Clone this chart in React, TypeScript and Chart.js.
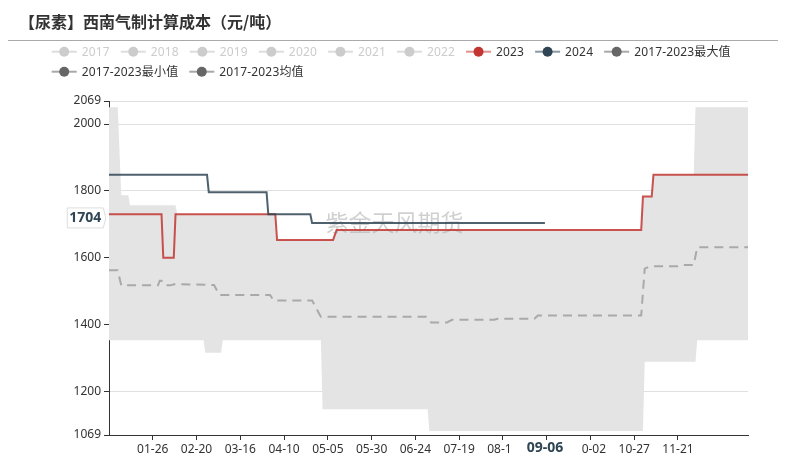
import React, { useEffect, useRef } from 'react';
import { Chart, registerables } from 'chart.js';

Chart.register(...registerables);

// ---------- data ----------
const TITLE = '【尿素】西南气制计算成本（元/吨）';
const WATERMARK = '紫金天风期货';

const legendNames = ['2017', '2018', '2019', '2020', '2021', '2022', '2023', '2024', '2017-2023最大值', '2017-2023最小值', '2017-2023均值'];

const xTickDates = ['01-26', '02-20', '03-16', '04-10', '05-05', '05-30', '06-24', '07-19', '08-13', '09-07', '10-02', '10-27', '11-21'];
const yTicks = [1069, 1200, 1400, 1600, 1800, 2000, 2069];

const pointerDate = '09-06';
const pointerValue = 1704;

const series2023: [string, number][] = [
  ['01-01', 1730], ['01-31', 1730], ['02-01', 1600], ['02-07', 1600], ['02-08', 1730],
  ['04-05', 1730], ['04-06', 1653], ['05-08', 1653], ['05-10', 1683],
  ['10-31', 1683], ['11-01', 1783], ['11-06', 1783], ['11-07', 1848], ['12-31', 1848],
];

const series2024: [string, number][] = [
  ['01-01', 1848], ['02-26', 1848], ['02-27', 1796], ['03-31', 1796], ['04-01', 1730],
  ['04-25', 1730], ['04-26', 1704], ['09-06', 1704],
];

const seriesMax: [string, number][] = [
  ['01-01', 2050], ['01-06', 2050], ['01-08', 1787], ['01-12', 1787], ['01-13', 1757],
  ['02-08', 1757], ['02-09', 1730], ['04-05', 1730], ['04-06', 1653], ['05-08', 1653],
  ['05-10', 1683], ['10-31', 1683], ['11-01', 1783], ['11-06', 1783], ['11-07', 1848],
  ['11-30', 1848], ['12-01', 2050], ['12-31', 2050],
];

const seriesMin: [string, number][] = [
  ['01-01', 1353], ['02-24', 1353], ['02-25', 1315], ['03-05', 1315], ['03-06', 1353],
  ['05-01', 1353], ['05-02', 1146], ['07-01', 1146], ['07-02', 1081], ['11-01', 1081],
  ['11-02', 1288], ['12-01', 1288], ['12-02', 1353], ['12-31', 1353],
];

const seriesMean: [string, number][] = [
  ['01-01', 1562], ['01-06', 1562], ['01-08', 1517], ['01-29', 1517], ['01-30', 1531],
  ['01-31', 1531], ['02-02', 1517], ['02-05', 1517], ['02-08', 1521], ['03-01', 1518],
  ['03-04', 1488], ['04-02', 1488], ['04-04', 1472], ['04-26', 1472], ['05-01', 1423],
  ['06-30', 1423], ['07-03', 1406], ['07-12', 1406], ['07-15', 1414], ['08-08', 1414],
  ['08-10', 1417], ['08-31', 1417], ['09-02', 1427], ['10-31', 1427], ['11-02', 1567],
  ['11-05', 1574], ['11-21', 1574], ['11-23', 1578], ['11-30', 1578], ['12-02', 1631],
  ['12-31', 1631],
];

// ---------- helpers ----------
const MONTH_START = [0, 31, 60, 91, 121, 152, 182, 213, 244, 274, 305, 335];
const dayIndex = (s: string) => {
  const [m, d] = s.split('-').map(Number);
  return MONTH_START[m - 1] + d - 1;
};
const toPts = (s: [string, number][]) => s.map(([d, v]) => ({ x: dayIndex(d), y: v }));
const xTickDays = xTickDates.map(dayIndex);

// ---------- styles ----------
const FONT = '"Noto Sans", "Noto Sans CJK SC", sans-serif';
const C2023 = 'rgba(194,53,49,0.85)';
const C2024 = 'rgba(47,69,84,0.85)';
const legendStyle = [
  { dot: '#cccccc', line: '#dddddd', text: '#cccccc' },
  { dot: '#cccccc', line: '#dddddd', text: '#cccccc' },
  { dot: '#cccccc', line: '#dddddd', text: '#cccccc' },
  { dot: '#cccccc', line: '#dddddd', text: '#cccccc' },
  { dot: '#cccccc', line: '#dddddd', text: '#cccccc' },
  { dot: '#cccccc', line: '#dddddd', text: '#cccccc' },
  { dot: '#c23531', line: '#e0908d', text: '#333333' },
  { dot: '#2f4554', line: '#8a98a2', text: '#333333' },
  { dot: '#666666', line: '#a8a8a8', text: '#333333' },
  { dot: '#666666', line: '#a8a8a8', text: '#333333' },
  { dot: '#666666', line: '#a8a8a8', text: '#333333' },
];

const overlayPlugin = {
  id: 'overlay',
  beforeDatasetsDraw(chart: any) {
    const ctx = chart.ctx;
    ctx.save();
    ctx.font = `23px "Noto Sans CJK SC", sans-serif`;
    ctx.fillStyle = 'rgba(170,170,170,0.55)';
    ctx.textAlign = 'center';
    ctx.textBaseline = 'middle';
    ctx.fillText(WATERMARK, chart.width / 2, 222.5);
    ctx.restore();
  },
  afterDraw(chart: any) {
    const ctx = chart.ctx;
    ctx.save();
    // title
    ctx.font = `bold 16px "Noto Sans CJK SC", sans-serif`;
    ctx.fillStyle = '#333';
    ctx.textAlign = 'left';
    ctx.textBaseline = 'middle';
    ctx.fillText(TITLE, 19, 22);
    // separator
    ctx.strokeStyle = '#aaaaaa';
    ctx.lineWidth = 1;
    ctx.beginPath();
    ctx.moveTo(8, 40.5);
    ctx.lineTo(778, 40.5);
    ctx.stroke();

    // legend
    ctx.font = `12px ${FONT}`;
    try { (ctx as any).letterSpacing = '0.15px'; } catch (e) { /* ignore */ }
    const x0 = 51.7;
    let x = x0;
    let y = 51.7;
    legendNames.forEach((name, i) => {
      const st = legendStyle[i];
      const tw = ctx.measureText(name).width;
      const w = 30 + tw;
      if (x + w > 748) {
        x = x0;
        y += 20;
      }
      ctx.strokeStyle = st.line;
      ctx.lineWidth = 2;
      ctx.beginPath();
      ctx.moveTo(x, y);
      ctx.lineTo(x + 25, y);
      ctx.stroke();
      ctx.fillStyle = st.dot;
      ctx.beginPath();
      ctx.arc(x + 12.5, y, 5, 0, Math.PI * 2);
      ctx.fill();
      ctx.fillStyle = st.text;
      ctx.textBaseline = 'middle';
      ctx.fillText(name, x + 30, y + 0.5);
      x += w + 11;
    });
    try { (ctx as any).letterSpacing = '0px'; } catch (e) { /* ignore */ }

    // axis pointer labels
    const xs = chart.scales.x;
    const ys = chart.scales.y;
    ctx.font = `bold 14px ${FONT}`;
    // x pointer
    const px = xs.getPixelForValue(dayIndex(pointerDate));
    const xtw = ctx.measureText(pointerDate).width;
    const bw = xtw + 32;
    ctx.fillStyle = '#ffffff';
    ctx.fillRect(px - bw / 2 + 0.5, 441, bw, 18);
    ctx.fillStyle = '#2f4554';
    ctx.textAlign = 'center';
    ctx.textBaseline = 'middle';
    ctx.fillText(pointerDate, px, 448.5);

    // y pointer
    const py = ys.getPixelForValue(pointerValue) - 5;
    const label = String(pointerValue);
    const ytw = ctx.measureText(label).width;
    const right = 103.3;
    const left = right - ytw - 4;
    const top = py - 10;
    const bot = py + 10;
    ctx.beginPath();
    ctx.moveTo(left, top);
    ctx.lineTo(right, top);
    ctx.lineTo(right + 2.5, py);
    ctx.lineTo(right, bot);
    ctx.lineTo(left, bot);
    ctx.closePath();
    ctx.fillStyle = '#ffffff';
    ctx.fill();
    ctx.strokeStyle = '#dddddd';
    ctx.lineWidth = 1;
    ctx.stroke();
    ctx.fillStyle = '#2f4554';
    ctx.fillText(label, (left + right) / 2, py + 0.5);
    ctx.restore();
  },
};

export default function App() {
  const ref = useRef<HTMLCanvasElement | null>(null);

  useEffect(() => {
    if (!ref.current) return;
    Chart.defaults.font.family = FONT;
    Chart.defaults.font.size = 12;
    const chart = new Chart(ref.current, {
      type: 'line',
      data: {
        datasets: [
          { label: '2024', data: toPts(series2024), borderColor: C2024, borderWidth: 2, pointRadius: 0, tension: 0, fill: false },
          { label: '2023', data: toPts(series2023), borderColor: C2023, borderWidth: 2, pointRadius: 0, tension: 0, fill: false },
          { label: '2017-2023均值', data: toPts(seriesMean), borderColor: '#a9a9a9', borderWidth: 2, borderDash: [9, 6], pointRadius: 0, tension: 0, fill: false },
          { label: '2017-2023最大值', data: toPts(seriesMax), borderColor: 'rgba(0,0,0,0)', borderWidth: 1, backgroundColor: '#e4e4e4', pointRadius: 0, tension: 0, fill: '+1' },
          { label: '2017-2023最小值', data: toPts(seriesMin), borderColor: 'rgba(0,0,0,0)', borderWidth: 1, pointRadius: 0, tension: 0, fill: false },
        ],
      },
      options: {
        animation: false,
        responsive: false,
        layout: { padding: { top: 101, right: 41, left: 0, bottom: 0 } },
        plugins: {
          legend: { display: false },
          title: { display: false },
          tooltip: { enabled: false },
          filler: { drawTime: 'beforeDatasetsDraw' },
        },
        scales: {
          x: {
            type: 'linear',
            min: 0,
            max: 365,
            afterBuildTicks: (s: any) => {
              s.ticks = xTickDays.map((v) => ({ value: v }));
            },
            afterFit: (s: any) => {
              s.height = 25;
            },
            ticks: {
              autoSkip: false,
              maxRotation: 0,
              color: '#333',
              padding: 2,
              font: { size: 12, family: FONT },
              callback: (v: any) => {
                const i = xTickDays.indexOf(Number(v));
                return i >= 0 ? xTickDates[i] : '';
              },
            },
            grid: { drawOnChartArea: false, tickLength: 5, color: '#333', tickColor: '#333' },
            border: { color: '#333', width: 1 },
          },
          y: {
            type: 'linear',
            min: 1069,
            max: 2069,
            afterBuildTicks: (s: any) => {
              s.ticks = yTicks.map((v) => ({ value: v }));
            },
            afterFit: (s: any) => {
              s.width = 109;
            },
            ticks: {
              color: '#333',
              padding: 3,
              font: { size: 12, family: FONT },
              callback: (v: any) => String(v),
            },
            grid: { color: '#e0e0e0', tickLength: 5, tickColor: '#333' },
            border: { color: '#333', width: 1 },
          },
        },
      },
      plugins: [overlayPlugin],
    } as any);
    return () => chart.destroy();
  }, []);

  return (
    <div style={{ position: 'absolute', left: 0, top: 0, width: 789, height: 460, background: '#fff' }}>
      <canvas ref={ref} width={789} height={460} style={{ width: 789, height: 460, display: 'block' }} />
    </div>
  );
}
